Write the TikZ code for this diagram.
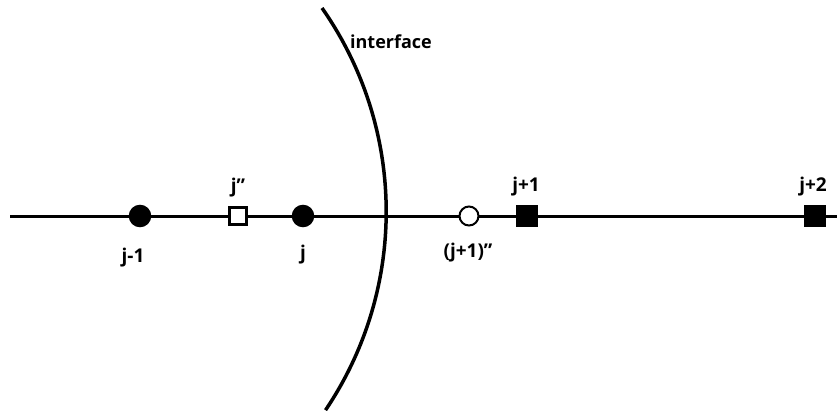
\documentclass[tikz,border=0pt]{standalone}
\usepackage{fontspec}
\setmainfont{Open Sans}
\begin{document}
\begin{tikzpicture}[x=1pt,y=-1pt,
  fdot/.style={circle,fill=black,draw=black,line width=1.5pt,inner sep=0pt,minimum size=21pt},
  odot/.style={circle,fill=white,draw=black,line width=2pt,inner sep=0pt,minimum size=19pt},
  fsq/.style={rectangle,fill=black,draw=black,line width=1.5pt,inner sep=0pt,minimum size=20pt},
  osq/.style={rectangle,fill=white,draw=black,line width=2.2pt,inner sep=0pt,minimum size=17pt},
  lab/.style={font=\bfseries\fontsize{19}{22}\selectfont,inner sep=0pt}]
\useasboundingbox (0,0) rectangle (837,410);
\coordinate (L) at (10,216);
\coordinate (R) at (837,216);
\draw[line width=3pt] (L) -- (R);
\draw[line width=3.5pt] (322,8) arc[start angle=-35,end angle=34,radius=355];
\node[fdot] (jm1) at (140,216) {};
\node[osq] (jpp) at (238,216) {};
\node[fdot] (j) at (303,216) {};
\node[odot] (jp1pp) at (469,216) {};
\node[fsq] (jp1) at (527,216) {};
\node[fsq] (jp2) at (815,216) {};
\node[lab] (ljm1) at (133,258) {j-1};
\node[lab] (ljpp) at (238,188) {j\char"22};
\node[lab] (lj) at (303,255) {j};
\node[lab] (ljp1pp) at (468,253) {(j+1)\char"22};
\node[lab] (ljp1) at (526,187) {j+1};
\node[lab] (ljp2) at (813,187) {j+2};
\node[font=\bfseries\fontsize{18}{20}\selectfont,inner sep=0pt] (itf) at (391,42) {interface};
\end{tikzpicture}
\end{document}
